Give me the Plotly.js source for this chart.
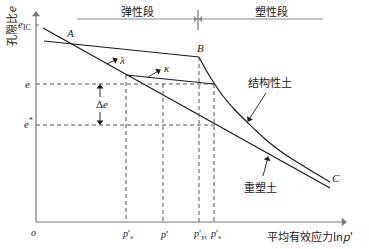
<!DOCTYPE html>
<html><head><meta charset="utf-8">
<script src="https://cdn.plot.ly/plotly-3.0.1.min.js"></script>
<style>html,body{margin:0;padding:0;background:#fff}#g{width:369px;height:249px}</style>
</head><body><div id="g"></div>
<script>
// schematic units (x: ln p', y: void ratio e)
const remoldX = [7, 294];
const remoldY = [194, 34];
const elasticX = [8, 163];
const elasticY = [181, 165];
const structX = [163, 170, 178, 187, 199, 212, 229, 247, 269, 294];
const structY = [165, 152, 139, 126, 112, 99, 83, 69, 55, 40];
const kappaX = [90, 178];
const kappaY = [147, 138];
const eIC = 197, eLevel = 138, eStarLevel = 97;
const eStarEndX = 181;
const vLinesX = [90, 127, 163, 178];
const vLinesTop = [147, 138, 165, 138];
const vLabels = ["<i>p</i>′<sub>e</sub>", "<i>p</i>′", "<i>p</i>′<sub>yi</sub>", "<i>p</i>′<sub>s</sub>"];

const serif = "Liberation Serif, DejaVu Serif, serif";
const cjk = "Noto Sans CJK SC, sans-serif";
const black = "#1a1a1a", dashC = "#555", axC = "#777";

const traces = [];
function line(x, y, opts) {
  traces.push(Object.assign({x: x, y: y, type: "scatter", mode: "lines", hoverinfo: "skip", showlegend: false,
    cliponaxis: false, line: {color: black, width: 1.2}}, opts || {}));
}
// arrow: line from tail to head plus a rotated triangle at the head (1 unit = 1 px on both axes)
function arrow(tx, ty, hx, hy, color, w, size) {
  const c = color || black, s = size || 6;
  const dx = hx - tx, dy = hy - ty, len = Math.hypot(dx, dy);
  const ang = Math.atan2(dx, dy) * 180 / Math.PI;
  const back = s * 0.35;
  const mx = hx - dx / len * back, my = hy - dy / len * back;
  line([tx, mx], [ty, my], {line: {color: c, width: w || 0.9}});
  traces.push({x: [mx], y: [my], type: "scatter", mode: "markers", hoverinfo: "skip", showlegend: false,
    cliponaxis: false, marker: {symbol: "triangle-up", angle: ang, size: s, color: c, line: {width: 0}}});
}
line(remoldX, remoldY);
line(elasticX, elasticY);
line(structX, structY, {line: {color: black, width: 1.2, shape: "spline", smoothing: 0.8}});
line(kappaX, kappaY);
const dash = {color: dashC, width: 1, dash: "4px,3px"};
line([0, structX[2]], [eLevel, eLevel], {line: dash});
line([0, eStarEndX], [eStarLevel, eStarLevel], {line: dash});
vLinesX.forEach((vx, i) => line([vx, vx], [vLinesTop[i], 0], {line: dash}));

// axes
arrow(0, 0, 0, 210, axC, 1.2, 7);
arrow(0, 0, 310, 0, axC, 1.2, 7);
line([0, 3], [eIC, eIC], {line: {color: axC, width: 1}});
// top segment markers
arrow(41, 203, 161, 203, "#888", 1, 5);
arrow(287, 203, 163, 203, "#888", 1, 5);
line([162, 162], [212, 192], {line: {color: "#555", width: 1}});
// label arrows
arrow(71, 158, 81, 163);
arrow(112, 145, 124, 152);
arrow(64, 125, 64, 137);
arrow(64, 110, 64, 98);
arrow(230, 129, 212, 101);
arrow(227, 46, 232, 65);

const ann = [];
function txt(x, y, t, size, font, extra) {
  ann.push(Object.assign({x: x, y: y, xref: "x", yref: "y", text: t, showarrow: false,
    font: {family: font || serif, size: size || 11, color: black}}, extra || {}));
}
txt(101, 211, "弹性段", 11, cjk);
txt(235, 211, "塑性段", 11, cjk);

// axis labels
txt(-25, 196, "孔隙比<i>e</i>", 11, cjk, {textangle: -90});
txt(-3, eIC, "<i>e</i><sub>IC</sub>", 11, serif, {xanchor: "right"});
txt(-9, eLevel, "<i>e</i>", 11);
txt(-8, eStarLevel + 2, "<i>e</i><sup>*</sup>", 11);
txt(-3, -10, "<i>o</i>", 10);
vLinesX.forEach((vx, i) => txt(vx + 1, -12, vLabels[i], 10));
txt(274, -14, "平均有效应力ln<i>p</i>′", 11, cjk);

// point labels
txt(34, 189, "<i>A</i>", 11);
txt(164, 174, "<i>B</i>", 11);
txt(300, 44, "<i>C</i>", 11);
txt(86, 162, "<i>λ</i>", 11);
txt(131, 154, "<i>κ</i>", 11);
txt(66, 118, "Δ<i>e</i>", 11);
txt(234, 140, "结构性土", 11, cjk);
txt(224, 35, "重塑土", 11, cjk);

const layout = {
  width: 369, height: 249,
  margin: {l: 0, r: 0, t: 0, b: 0},
  paper_bgcolor: "#fff", plot_bgcolor: "#fff",
  xaxis: {range: [-36, 333], visible: false, fixedrange: true},
  yaxis: {range: [-27, 222], visible: false, fixedrange: true},
  annotations: ann,
  showlegend: false
};
Plotly.newPlot("g", traces, layout, {staticPlot: true, displayModeBar: false});
</script></body></html>
